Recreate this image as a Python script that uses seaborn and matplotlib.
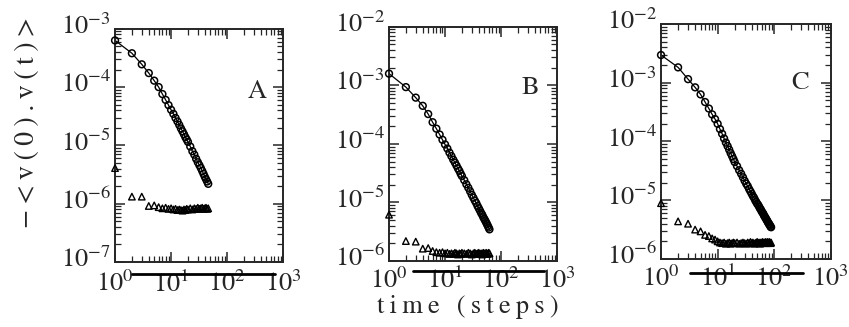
import numpy as np
import pandas as pd
import matplotlib
matplotlib.use('Agg')
import matplotlib.pyplot as plt
import matplotlib.transforms as mtransforms
import seaborn as sns
from matplotlib.ticker import LogLocator, NullFormatter

# time steps (every step up to 20, then every second step)
t_a = list(range(1, 21)) + list(range(22, 47, 2))
t_b = list(range(1, 21)) + list(range(22, 63, 2))
t_c = list(range(1, 21)) + list(range(22, 89, 2))

# log10 of -<v(0).v(t)>
circ_a_log = [-3.20, -3.42, -3.61, -3.76, -3.89, -4.00, -4.12, -4.22, -4.31, -4.39,
              -4.46, -4.53, -4.59, -4.65, -4.71, -4.76, -4.81, -4.86, -4.90, -4.94,
              -5.02, -5.10, -5.16, -5.23, -5.29, -5.34, -5.39, -5.44, -5.49, -5.54,
              -5.58, -5.62, -5.66]
tri_a_log = [-5.39, -5.88, -5.88, -6.04, -6.03, -6.06, -6.08, -6.07, -6.09, -6.08,
             -6.10, -6.09, -6.11, -6.10, -6.11, -6.12, -6.10, -6.11, -6.09, -6.10,
             -6.08, -6.10, -6.08, -6.09, -6.07, -6.09, -6.08, -6.07, -6.09, -6.08,
             -6.07, -6.09, -6.08]

circ_b_log = [-2.80, -3.03, -3.21, -3.35, -3.49, -3.63, -3.74, -3.84, -3.93, -4.01,
              -4.08, -4.15, -4.21, -4.27, -4.32, -4.37, -4.42, -4.46, -4.51, -4.55,
              -4.62, -4.69, -4.75, -4.81, -4.87, -4.92, -4.97, -5.01, -5.06, -5.10,
              -5.14, -5.18, -5.21, -5.25, -5.28, -5.31, -5.34, -5.37, -5.40, -5.43,
              -5.46]
tri_b_log = [-5.21, -5.66, -5.67, -5.79, -5.78, -5.83, -5.85, -5.86, -5.85, -5.87,
             -5.86, -5.88, -5.87, -5.88, -5.86, -5.87, -5.89, -5.87, -5.88, -5.86,
             -5.87, -5.88, -5.86, -5.87, -5.89, -5.87, -5.86, -5.88, -5.87, -5.86,
             -5.88, -5.87, -5.89, -5.86, -5.87, -5.88, -5.86, -5.87, -5.88, -5.86,
             -5.87]

circ_c_log = [-2.53, -2.74, -2.94, -3.08, -3.20, -3.33, -3.44, -3.54, -3.62, -3.70,
              -3.79, -3.87, -3.95, -4.02, -4.08, -4.14, -4.20, -4.25, -4.30, -4.35,
              -4.42, -4.49, -4.55, -4.61, -4.67, -4.72, -4.76, -4.81, -4.85, -4.89,
              -4.93, -4.96, -5.00, -5.03, -5.06, -5.08, -5.11, -5.14, -5.16, -5.19,
              -5.21, -5.23, -5.26, -5.28, -5.30, -5.32, -5.34, -5.36, -5.38, -5.40,
              -5.41, -5.43, -5.45, -5.46]
tri_c_log = [-5.05, -5.36, -5.40, -5.50, -5.53, -5.59, -5.61, -5.65, -5.67, -5.70,
             -5.72, -5.73, -5.72, -5.74, -5.73, -5.72, -5.74, -5.73, -5.72, -5.73,
             -5.72, -5.74, -5.73, -5.72, -5.73, -5.74, -5.72, -5.73, -5.71, -5.73,
             -5.72, -5.74, -5.73, -5.72, -5.71, -5.73, -5.72, -5.74, -5.72, -5.73,
             -5.71, -5.72, -5.73, -5.72, -5.71, -5.73, -5.72, -5.71, -5.73, -5.72,
             -5.71, -5.72, -5.73, -5.72]

panel_labels = ['A', 'B', 'C']
ylims = [(1e-7, 1e-3), (1e-6, 1e-2), (1e-6, 1e-2)]

sns.set_style('ticks')
plt.rcParams['font.family'] = ['STIXGeneral', 'DejaVu Serif']
plt.rcParams['mathtext.fontset'] = 'stix'

fig = plt.figure(figsize=(8.49, 3.27), dpi=100)

# axes boxes in figure fraction
boxes = [(0.1355, 0.199, 0.198, 0.713),
         (0.4582, 0.202, 0.198, 0.716),
         (0.7786, 0.208, 0.200, 0.719)]
# x tick label pad per panel (the scan has them at different heights)
xpads = [7, 5, 5]
# printing smear under the tick labels (axes fraction)
smears = [((0.10, 0.95), -0.052), ((0.14, 0.92), -0.042), ((0.17, 0.835), -0.058)]
letter_pos = [(0.845, 0.73), (0.84, 0.74), (0.82, 0.75)]

# y tick labels sit a little above their ticks in the original
yshift = mtransforms.ScaledTranslation(0, 3.5 / 72, fig.dpi_scale_trans)

series = [(t_a, circ_a_log, tri_a_log), (t_b, circ_b_log, tri_b_log), (t_c, circ_c_log, tri_c_log)]

for i, (t, circ, tri) in enumerate(series):
    df = pd.DataFrame({'t': t, 'circ': 10 ** np.array(circ), 'tri': 10 ** np.array(tri)})
    ax = fig.add_axes(boxes[i])

    sns.lineplot(data=df, x='t', y='circ', color='black', linewidth=0.9, ax=ax)
    sns.scatterplot(data=df, x='t', y='circ', marker='o', s=24, facecolors='none',
                    edgecolor='black', linewidth=1.1, clip_on=False, zorder=3, ax=ax)
    sns.scatterplot(data=df, x='t', y='tri', marker='^', s=22, facecolors='none',
                    edgecolor='black', linewidth=1.0, clip_on=False, zorder=3, ax=ax)

    ax.set_xscale('log')
    ax.set_yscale('log')
    ax.set_xlim(1, 1000)
    ax.set_ylim(*ylims[i])
    ax.set_xlabel('')
    ax.set_ylabel('')

    for axis in (ax.xaxis, ax.yaxis):
        axis.set_major_locator(LogLocator(base=10, numticks=10))
        axis.set_minor_locator(LogLocator(base=10, subs=np.arange(2, 10), numticks=30))
        axis.set_minor_formatter(NullFormatter())

    ax.tick_params(which='both', direction='in', top=True, right=True, labelsize=19)
    ax.tick_params(which='major', length=7, width=1.1)
    ax.tick_params(which='minor', length=4, width=0.9)
    ax.tick_params(axis='x', pad=xpads[i])
    ax.tick_params(axis='y', pad=3)
    for sp in ax.spines.values():
        sp.set_linewidth(1.4)

    for lab in ax.get_yticklabels():
        lab.set_transform(lab.get_transform() + yshift)

    (x0, x1), yy = smears[i]
    ax.plot([x0, x1], [yy, yy], transform=ax.transAxes, color='black', lw=2.0, clip_on=False)

    lx, ly = letter_pos[i]
    ax.text(lx, ly, panel_labels[i], transform=ax.transAxes, fontsize=19,
            ha='center', va='center')

fig.text(0.032, 0.627, '\u2212\u2009<\u2009v\u2009(\u20090\u2009)\u2009.\u2009v\u2009(\u2009t\u2009)\u2009>',
         rotation=90, fontsize=20, ha='center', va='center')
fig.text(0.551, 0.062, 't\u2009i\u2009m\u2009e\u2009 \u2009(\u2009s\u2009t\u2009e\u2009p\u2009s\u2009)',
         fontsize=19, ha='center', va='center')

fig.savefig('out.png', dpi=100)
